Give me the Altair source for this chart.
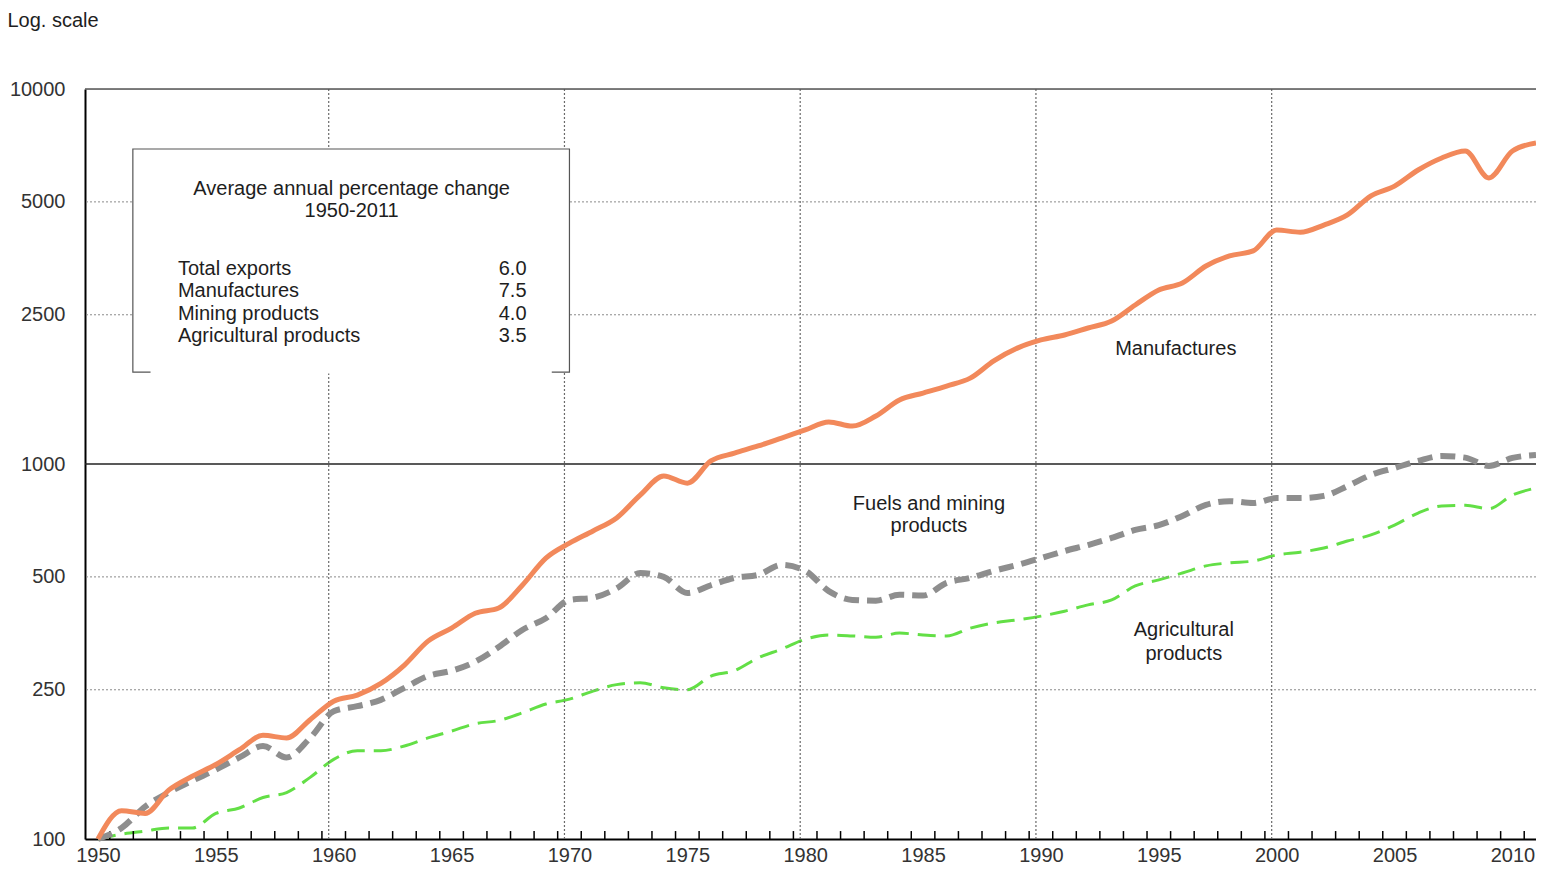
import altair as alt
import pandas as pd

# ---- data (index, 1950 = 100) ----
years = list(range(1950, 2012))
manufactures = [100, 119, 117, 135, 147, 158, 173, 189, 186, 208,
                233, 242, 260, 291, 337, 365, 400, 413, 475, 561,
                615, 663, 718, 826, 929, 889, 1019, 1069, 1117, 1173,
                1233, 1295, 1262, 1343, 1482, 1546, 1614, 1694, 1883, 2037,
                2142, 2208, 2305, 2406, 2655, 2911, 3039, 3372, 3589, 3700,
                4207, 4150, 4337, 4614, 5188, 5508, 6081, 6546, 6835, 5794,
                6835, 7178]
fuels_mining = [100, 107, 122, 133, 143, 153, 165, 177, 165, 186,
                219, 226, 235, 253, 272, 281, 297, 325, 361, 388,
                434, 440, 466, 512, 500, 453, 475, 497, 506, 538,
                519, 458, 434, 432, 448, 446, 482, 497, 519, 538,
                561, 586, 608, 635, 667, 687, 727, 778, 796, 787,
                811, 811, 822, 873, 935, 976, 1019, 1050, 1040, 988,
                1038, 1057]
agricultural = [100, 103, 105, 107, 107, 117, 121, 129, 133, 146,
                163, 172, 172, 177, 186, 194, 203, 207, 217, 229,
                236, 248, 258, 261, 253, 250, 272, 281, 304, 321,
                341, 350, 348, 345, 354, 350, 348, 365, 377, 384,
                393, 405, 421, 434, 473, 491, 512, 535, 545, 551,
                572, 582, 597, 623, 647, 687, 740, 773, 776, 760,
                826, 863]

x_labels = [1950, 1955, 1960, 1965, 1970, 1975, 1980, 1985, 1990, 1995, 2000, 2005, 2010]
y_labels = [100, 250, 500, 1000, 2500, 5000, 10000]
dotted_y = [250, 500, 2500, 5000]
decades = [1960, 1970, 1980, 1990, 2000]
half_years = [y + 0.5 for y in range(1950, 2011)]

stat_names = ["Total exports", "Manufactures", "Mining products", "Agricultural products"]
stat_values = ["6.0", "7.5", "4.0", "3.5"]

# annotation anchors in data space (year, index value)
box_x, box_x2, box_y, box_y2 = 1951.48, 1970.0, 6918, 1759
stat_row_y = [3311, 2893, 2512, 2194]
stat_name_x, stat_value_x = 1953.39, 1968.18
box_title = ["Average annual percentage change", "1950-2011"]
box_title_y = [5412, 4728]
box_title_x = 1960.76
series_labels = ["Manufactures", "Fuels and mining", "products", "Agricultural", "products"]
series_label_x = [1995.72, 1985.25, 1985.25, 1996.06, 1996.06]
series_label_y = [2026, 782, 683, 361, 311]

FONT = "Liberation Sans"
TXT = "#1e1e1e"

xdom = [1949.45, 2011.0]
xscale = alt.Scale(domain=xdom, nice=False, zero=False)
yscale = alt.Scale(type="log", domain=[100, 10000], nice=False)

df = pd.DataFrame({"year": years, "Manufactures": manufactures,
                   "Fuels": fuels_mining, "Agri": agricultural})

x_axis = alt.Axis(values=x_labels, format="d", title=None, grid=False, ticks=False, tickSize=0,
                  labelFontSize=20, labelFont=FONT, labelColor="#333333", labelPadding=6,
                  domainColor="#000000", domainWidth=2, labelOverlap=False)
y_axis = alt.Axis(values=y_labels, format="d", grid=False, ticks=False, tickSize=0,
                  labelFontSize=20, labelFont=FONT, labelColor="#333333", labelPadding=20,
                  domainColor="#000000", domainWidth=2,
                  title="Log. scale", titleAngle=0, titleX=-78, titleY=-63,
                  titleAlign="left", titleBaseline="alphabetic", titleFontSize=20,
                  titleFont=FONT, titleFontWeight="normal", titleColor=TXT)

base = alt.Chart(df)

agri_line = base.mark_line(color="#63DF46", strokeWidth=3, strokeDash=[18, 9],
                           interpolate="monotone").encode(
    x=alt.X("year:Q", scale=xscale, axis=x_axis),
    y=alt.Y("Agri:Q", scale=yscale, axis=y_axis),
)
fuel_line = base.mark_line(color="#8E8E8E", strokeWidth=6, strokeDash=[15, 8],
                           interpolate="monotone").encode(
    x=alt.X("year:Q", scale=xscale), y=alt.Y("Fuels:Q", scale=yscale))
manu_line = base.mark_line(color="#F2895B", strokeWidth=5,
                           interpolate="monotone").encode(
    x=alt.X("year:Q", scale=xscale), y=alt.Y("Manufactures:Q", scale=yscale))

hgrid = alt.Chart(pd.DataFrame({"v": dotted_y})).mark_rule(
    color="#8a8a8a", strokeWidth=1, strokeDash=[2, 2]).encode(y=alt.Y("v:Q", scale=yscale))
vgrid = alt.Chart(pd.DataFrame({"d": decades})).mark_rule(
    color="#6a6a6a", strokeWidth=1.2, strokeDash=[2, 2], xOffset=-5).encode(x=alt.X("d:Q", scale=xscale))
line1000 = alt.Chart(pd.DataFrame({"v": [1000]})).mark_rule(
    color="#222222", strokeWidth=1.5).encode(y=alt.Y("v:Q", scale=yscale))
top_border = alt.Chart(pd.DataFrame({"v": [10000]})).mark_rule(
    color="#555555", strokeWidth=1.5).encode(y=alt.Y("v:Q", scale=yscale))
ticks = alt.Chart(pd.DataFrame({"t": half_years, "lo": [100] * len(half_years),
                                "hi": [105] * len(half_years)})).mark_rule(
    color="#000000", strokeWidth=1.5).encode(
    x=alt.X("t:Q", scale=xscale), y=alt.Y("lo:Q", scale=yscale), y2="hi:Q")

box = alt.Chart(pd.DataFrame({"x": [box_x], "x2": [box_x2], "y": [box_y], "y2": [box_y2]})).mark_rect(
    fill="white", stroke="#555555", strokeWidth=1.2).encode(
    x=alt.X("x:Q", scale=xscale), x2="x2:Q", y=alt.Y("y:Q", scale=yscale), y2="y2:Q")
box_gap = alt.Chart(pd.DataFrame({"x": [box_x + 0.75], "x2": [box_x2 - 0.75], "y": [box_y2]})).mark_rule(
    color="white", strokeWidth=3).encode(
    x=alt.X("x:Q", scale=xscale), x2="x2:Q", y=alt.Y("y:Q", scale=yscale))

title_txt = alt.Chart(pd.DataFrame({"x": [box_title_x] * 2, "y": box_title_y, "t": box_title})).mark_text(
    font=FONT, fontSize=20, color=TXT, align="center", baseline="middle").encode(
    x=alt.X("x:Q", scale=xscale), y=alt.Y("y:Q", scale=yscale), text="t:N")
names_txt = alt.Chart(pd.DataFrame({"x": [stat_name_x] * 4, "y": stat_row_y, "t": stat_names})).mark_text(
    font=FONT, fontSize=20, color=TXT, align="left", baseline="middle").encode(
    x=alt.X("x:Q", scale=xscale), y=alt.Y("y:Q", scale=yscale), text="t:N")
vals_txt = alt.Chart(pd.DataFrame({"x": [stat_value_x] * 4, "y": stat_row_y, "t": stat_values})).mark_text(
    font=FONT, fontSize=20, color=TXT, align="right", baseline="middle").encode(
    x=alt.X("x:Q", scale=xscale), y=alt.Y("y:Q", scale=yscale), text="t:N")
series_txt = alt.Chart(pd.DataFrame({"x": series_label_x, "y": series_label_y, "t": series_labels})).mark_text(
    font=FONT, fontSize=20, color=TXT, align="center", baseline="middle").encode(
    x=alt.X("x:Q", scale=xscale), y=alt.Y("y:Q", scale=yscale), text="t:N")

chart = alt.layer(
    agri_line, hgrid, vgrid, line1000, top_border, ticks,
    box, box_gap, title_txt, names_txt, vals_txt, series_txt,
    fuel_line, manu_line,
).properties(
    width=1451, height=750,
    autosize=alt.AutoSizeParams(type="none"),
    padding={"left": 77, "top": 81, "right": 0, "bottom": 28},
).configure_view(stroke="transparent").configure(background="white")

chart.save("out.html", embed_options={"renderer": "svg", "actions": False})
